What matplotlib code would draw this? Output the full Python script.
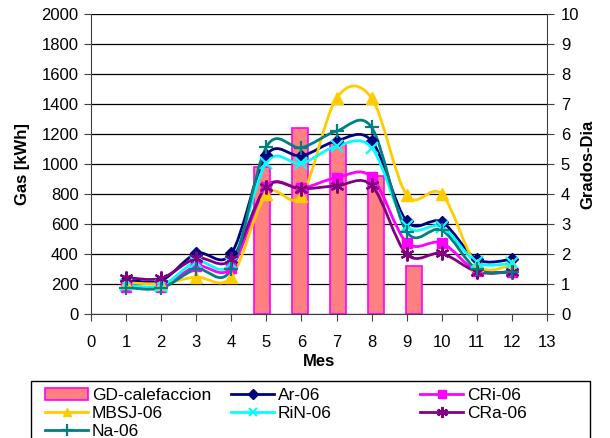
import numpy as np
import matplotlib
matplotlib.use("Agg")
import matplotlib.pyplot as plt
from matplotlib.path import Path
from matplotlib.patches import PathPatch, Rectangle
from matplotlib.lines import Line2D

plt.rcParams['font.family'] = ['Liberation Sans', 'DejaVu Sans']
plt.rcParams['font.size'] = 12

# data
meses = [1, 2, 3, 4, 5, 6, 7, 8, 9, 10, 11, 12]
ar_06   = [230, 225, 405, 405, 1060, 1055, 1155, 1155, 620, 615, 366, 366]
cri_06  = [185, 180, 320, 310, 850, 840, 910, 915, 478, 475, 288, 282]
mbsj_06 = [210, 205, 248, 248, 800, 790, 1440, 1440, 795, 800, 330, 328]
rin_06  = [195, 190, 350, 340, 1010, 1005, 1120, 1110, 590, 583, 346, 340]
cra_06  = [245, 240, 373, 365, 850, 835, 855, 858, 400, 405, 285, 283]
na_06   = [178, 175, 300, 300, 1115, 1110, 1220, 1245, 550, 560, 300, 285]

gd_meses = [5, 6, 7, 8, 9]
gd_calefaccion = [4.9, 6.2, 5.7, 4.6, 1.6]

series = [
    ("Ar-06", ar_06, "#000080", "D", 6.5),
    ("CRi-06", cri_06, "#FF00FF", "s", 6.5),
    ("MBSJ-06", mbsj_06, "#FFCC00", "^", 8),
    ("RiN-06", rin_06, "#00FFFF", "x", 8),
    ("CRa-06", cra_06, "#800080", (6, 2, 0), 10),
    ("Na-06", na_06, "#008080", "+", 10),
]


def smooth_path(x, y):
    # excel style smoothed line: cubic bezier through each point
    pts = np.column_stack([x, y]).astype(float)
    n = len(pts)
    verts = [pts[0]]
    codes = [Path.MOVETO]
    for i in range(n - 1):
        p0 = pts[max(i - 1, 0)]
        p1 = pts[i]
        p2 = pts[i + 1]
        p3 = pts[min(i + 2, n - 1)]
        verts += [p1 + (p2 - p0) / 6.0, p2 - (p3 - p1) / 6.0, p2]
        codes += [Path.CURVE4] * 3
    return Path(verts, codes)


fig = plt.figure(figsize=(6.1, 4.38), dpi=100)
rect = [91 / 610, 1 - 314.3 / 438, 456 / 610, 300.3 / 438]

# secondary axis (bars, Grados-Dia) underneath
axb = fig.add_axes(rect)
axb.set_xlim(0.5, 12.5)
axb.set_ylim(0, 10)
axb.set_yticks(range(0, 11))
axb.yaxis.tick_right()
axb.yaxis.set_label_position("right")
axb.set_xticks([])
axb.grid(axis='y', color='black', lw=0.9, zorder=0)
axb.set_axisbelow(True)
for s in ['top', 'left', 'bottom']:
    axb.spines[s].set_visible(False)
axb.spines['right'].set_color('#404040')
axb.tick_params(axis='y', direction='out', length=5, color='#404040', pad=5)
bars = axb.bar(gd_meses, gd_calefaccion, width=0.4, color='#FF8080',
               edgecolor='#FF00FF', lw=1.2, zorder=2, label='GD-calefaccion')
axb.set_ylabel('Grados-Dia', fontweight='bold', rotation=90, labelpad=1)

# primary axis (lines, Gas)
ax = fig.add_axes(rect)
ax.patch.set_visible(False)
ax.set_xlim(0, 13)
ax.set_ylim(0, 2000)
ax.set_xticks(range(0, 14))
ax.set_yticks(range(0, 2001, 200))
for s in ['top', 'right']:
    ax.spines[s].set_visible(False)
ax.spines['left'].set_color('#404040')
ax.spines['bottom'].set_color('#404040')
ax.tick_params(axis='both', direction='out', length=5, color='#404040')
ax.tick_params(axis='x', pad=10)
ax.tick_params(axis='y', pad=4)
ax.set_xlabel('Mes', fontweight='bold', labelpad=3)
ax.set_ylabel('Gas [kWh]', fontweight='bold', labelpad=8)

handles = {}
for name, vals, col, mk, ms in series:
    ax.add_patch(PathPatch(smooth_path(meses, vals), facecolor='none',
                           edgecolor=col, lw=2, zorder=2))
    mew = 1.6 if mk in ('x', '+', (6, 2, 0)) else 1
    ax.plot(meses, vals, ls='none', marker=mk, ms=ms, color=col, mew=mew,
            zorder=3)
    handles[name] = Line2D([], [], color=col, lw=2, marker=mk, ms=ms * 0.8, mew=mew)

# legend: three columns inside one frame
cols = [
    ([bars, handles["MBSJ-06"], handles["Na-06"]], ["GD-calefaccion", "MBSJ-06", "Na-06"], 45),
    ([handles["Ar-06"], handles["RiN-06"]], ["Ar-06", "RiN-06"], 231),
    ([handles["CRi-06"], handles["CRa-06"]], ["CRi-06", "CRa-06"], 420),
]
for h, l, xpx in cols:
    fig.legend(h, l, loc='upper left', bbox_to_anchor=(xpx / 610, 1 - 388 / 438),
               frameon=False, borderpad=0, borderaxespad=0, handlelength=2.5,
               handletextpad=0.2, labelspacing=0.17, fontsize=12.5)
fig.patches.append(Rectangle((31 / 610, -0.05), 559 / 610, 0.05 + 1 - 380.7 / 438,
                             transform=fig.transFigure, fill=False,
                             edgecolor='black', lw=1))

fig.savefig('out.png', dpi=100)
